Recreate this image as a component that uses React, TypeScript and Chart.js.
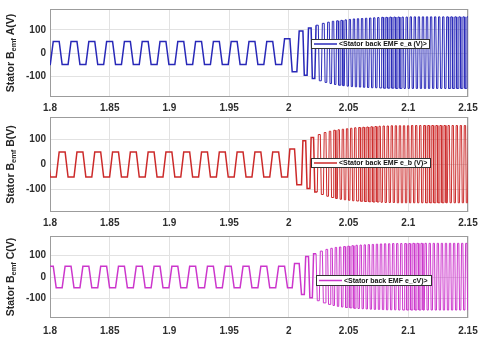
import React, { useEffect, useRef } from "react";
import { Chart, registerables } from "chart.js";

Chart.register(...registerables);

// ---------- data ----------
const X_TICKS = [1.8, 1.85, 1.9, 1.95, 2, 2.05, 2.1, 2.15];
const X_TICK_LABELS = ["1.8", "1.85", "1.9", "1.95", "2", "2.05", "2.1", "2.15"];
const Y_TICKS = [-100, 0, 100];
const Y_TICK_LABELS = ["-100", "0", "100"];
const PHASE_NAMES = ["A", "B", "C"];
const LEGEND_LABELS = [
  "<Stator back EMF e_a (V)>",
  "<Stator back EMF e_b (V)>",
  "<Stator back EMF e_cV)>",
];
// phase lag of B and C behind A, in electrical cycles
const PHASE_LAG = [0, 1 / 3, 2 / 3];

// centre times (s) of the positive flat tops of phase A, one per electrical cycle
const peakTimes = [
  1.7903, 1.8052, 1.8201, 1.835, 1.8499, 1.8648, 1.8797, 1.8946, 1.9095, 1.9244,
  1.9393, 1.9542, 1.9691, 1.984, 1.9989, 2.0106, 2.0176, 2.0238, 2.0289, 2.0332,
  2.037, 2.0406, 2.0441, 2.0476, 2.0511, 2.0545, 2.0579, 2.0613, 2.0647, 2.0681,
  2.0715, 2.0749, 2.0783, 2.0817, 2.0851, 2.0885, 2.0919, 2.0953, 2.0987, 2.1021,
  2.1055, 2.1089, 2.1123, 2.1157, 2.1191, 2.1225, 2.1259, 2.1293, 2.1327, 2.1361,
  2.1395, 2.1429, 2.1463, 2.1497, 2.1531, 2.1565,
];
// positive plateau level (V) of each cycle
const peakLevels = [
  50, 50, 50, 50, 50, 50, 50, 50, 50, 50,
  50, 50, 50, 50, 62, 95, 108, 120, 128, 133,
  137, 139, 141, 143, 145, 147, 148, 149, 150, 151,
  152, 153, 154, 154, 155, 155, 155, 155, 155, 156,
  156, 156, 156, 156, 156, 156, 156, 156, 156, 156,
  156, 156, 156, 156, 156, 156,
];
// negative plateau level (V) of each cycle
const troughLevels = [
  -50, -50, -50, -50, -50, -50, -50, -50, -50, -50,
  -50, -50, -50, -50, -81, -96, -110, -120, -127, -132,
  -136, -139, -141, -143, -145, -146, -147, -148, -149, -150,
  -150, -151, -152, -152, -152, -153, -153, -153, -153, -153,
  -153, -153, -153, -153, -153, -153, -153, -153, -153, -153,
  -153, -153, -153, -153, -153, -153,
];

const COLORS = ["#2828b8", "#cc2a2a", "#cc36cc"];

// ---------- layout ----------
const PANELS = [
  { top: 0, height: 115, areaTop: 9, areaBottom: 97, tickPad: 5, legend: { x: 311, y: 39, w: 119, h: 10 } },
  { top: 115, height: 113, areaTop: 2, areaBottom: 97, tickPad: 5, legend: { x: 311, y: 43, w: 120, h: 10 } },
  { top: 228, height: 115, areaTop: 8, areaBottom: 90, tickPad: 7, legend: { x: 316, y: 47, w: 116, h: 11 } },
];

function buildPoints(phase: number) {
  const lag = PHASE_LAG[phase];
  const n = peakTimes.length;
  const timeAt = (u: number) => {
    let k = Math.floor(u);
    if (k < 0) k = 0;
    if (k > n - 2) k = n - 2;
    return peakTimes[k] + (u - k) * (peakTimes[k + 1] - peakTimes[k]);
  };
  const pts: { x: number; y: number }[] = [];
  for (let k = 0; k < n; k++) {
    const c = k + lag;
    pts.push({ x: timeAt(c - 1 / 6), y: peakLevels[k] });
    pts.push({ x: timeAt(c + 1 / 6), y: peakLevels[k] });
    pts.push({ x: timeAt(c + 1 / 3), y: troughLevels[k] });
    pts.push({ x: timeAt(c + 2 / 3), y: troughLevels[k] });
  }
  return pts;
}

const FONT = "'Liberation Sans', Arial, Helvetica, sans-serif";

function Panel({ idx }: { idx: number }) {
  const ref = useRef<HTMLCanvasElement | null>(null);
  const p = PANELS[idx];
  useEffect(() => {
    const decor = {
      id: "decor" + idx,
      beforeDatasetsDraw(chart: any) {
        const { ctx, chartArea: a } = chart;
        ctx.save();
        ctx.strokeStyle = "#9c9c9c";
        ctx.lineWidth = 1;
        ctx.strokeRect(a.left + 0.5, a.top + 0.5, a.right - a.left - 1, a.bottom - a.top - 1);
        ctx.restore();
      },
      afterDatasetsDraw(chart: any) {
        const { ctx, chartArea: a } = chart;
        // legend box
        const L = p.legend;
        ctx.save();
        ctx.fillStyle = "#ffffff";
        ctx.fillRect(L.x, L.y, L.w, L.h);
        ctx.strokeStyle = "#333333";
        ctx.lineWidth = 1;
        ctx.strokeRect(L.x + 0.5, L.y + 0.5, L.w - 1, L.h - 1);
        ctx.strokeStyle = COLORS[idx];
        ctx.lineWidth = 1.5;
        ctx.beginPath();
        ctx.moveTo(L.x + 3, L.y + L.h / 2);
        ctx.lineTo(L.x + 26, L.y + L.h / 2);
        ctx.stroke();
        ctx.fillStyle = "#111111";
        ctx.textBaseline = "middle";
        ctx.textAlign = "left";
        let fs = 7;
        ctx.font = `bold ${fs}px ${FONT}`;
        const avail = L.w - 31;
        const tw = ctx.measureText(LEGEND_LABELS[idx]).width;
        if (tw > avail) {
          fs = (fs * avail) / tw;
          ctx.font = `bold ${fs}px ${FONT}`;
        }
        ctx.fillText(LEGEND_LABELS[idx], L.x + 28, L.y + L.h / 2 + 0.5);
        ctx.restore();

        // y-axis title with subscript
        ctx.save();
        const cy = (a.top + a.bottom) / 2;
        ctx.translate(13.5, cy);
        ctx.rotate(-Math.PI / 2);
        ctx.fillStyle = "#262626";
        ctx.textBaseline = "alphabetic";
        ctx.textAlign = "left";
        const mainFont = `bold 10.5px ${FONT}`;
        const subFont = `bold 7.5px ${FONT}`;
        const s1 = "Stator B";
        const s2 = "emf";
        const s3 = " " + PHASE_NAMES[idx] + "(V)";
        ctx.font = mainFont;
        const w1 = ctx.measureText(s1).width;
        const w3 = ctx.measureText(s3).width;
        ctx.font = subFont;
        const w2 = ctx.measureText(s2).width;
        let x0 = -(w1 + w2 + w3) / 2;
        ctx.font = mainFont;
        ctx.fillText(s1, x0, 0);
        x0 += w1;
        ctx.font = subFont;
        ctx.fillText(s2, x0, 2.5);
        x0 += w2;
        ctx.font = mainFont;
        ctx.fillText(s3, x0, 0);
        ctx.restore();
      },
    };

    const chart = new Chart(ref.current as HTMLCanvasElement, {
      type: "line",
      data: {
        datasets: [
          {
            label: LEGEND_LABELS[idx],
            data: buildPoints(idx),
            borderColor: COLORS[idx],
            borderWidth: 1.5,
            pointRadius: 0,
            tension: 0,
            fill: false,
            segment: {
              borderWidth: (c: any) => (c.p0.parsed.x > 2.022 ? 1 : 1.5),
            },
          },
        ],
      },
      options: {
        animation: false,
        responsive: false,
        maintainAspectRatio: false,
        parsing: false,
        layout: { padding: { left: 0, right: 12, top: p.areaTop, bottom: 0 } },
        plugins: { legend: { display: false }, tooltip: { enabled: false } },
        scales: {
          x: {
            type: "linear",
            min: 1.8,
            max: 2.15,
            afterBuildTicks: (s: any) => {
              s.ticks = X_TICKS.map((v) => ({ value: v }));
            },
            afterFit: (s: any) => {
              s.height = p.height - p.areaBottom;
              s.paddingLeft = 0;
              s.paddingRight = 0;
            },
            ticks: {
              autoSkip: false,
              maxRotation: 0,
              padding: p.tickPad,
              color: "#2e2e2e",
              font: { family: FONT, size: 10, weight: "bold" },
              callback: (v: any) => {
                const i = X_TICKS.findIndex((t) => Math.abs(t - Number(v)) < 1e-9);
                return i >= 0 ? X_TICK_LABELS[i] : "";
              },
            },
            grid: { color: "#e2e2e2", lineWidth: 1, drawTicks: false },
            border: { display: false },
          },
          y: {
            type: "linear",
            min: -190,
            max: 190,
            afterBuildTicks: (s: any) => {
              s.ticks = Y_TICKS.map((v) => ({ value: v }));
            },
            afterFit: (s: any) => {
              s.width = 50;
              s.paddingTop = 0;
              s.paddingBottom = 0;
            },
            ticks: {
              padding: 4,
              color: "#2e2e2e",
              font: { family: FONT, size: 10, weight: "bold" },
              callback: (v: any) => {
                const i = Y_TICKS.indexOf(Number(v));
                return i >= 0 ? Y_TICK_LABELS[i] : "";
              },
            },
            grid: { color: "#e2e2e2", lineWidth: 1, drawTicks: false },
            border: { display: false },
          },
        },
      },
      plugins: [decor],
    } as any);
    return () => chart.destroy();
  }, [idx]);

  return (
    <canvas
      ref={ref}
      width={480}
      height={p.height}
      style={{ position: "absolute", left: 0, top: p.top, width: 480, height: p.height }}
    />
  );
}

export default function App() {
  return (
    <div
      style={{
        position: "absolute",
        left: 0,
        top: 0,
        width: 480,
        height: 343,
        background: "#ffffff",
        overflow: "hidden",
      }}
    >
      {PANELS.map((_, i) => (
        <Panel key={i} idx={i} />
      ))}
    </div>
  );
}
